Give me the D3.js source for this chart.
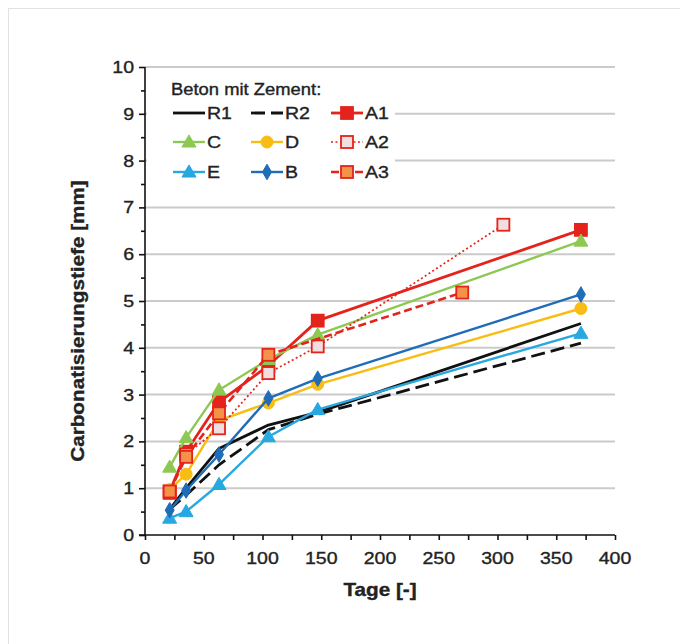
<!DOCTYPE html>
<html>
<head>
<meta charset="utf-8">
<script src="https://cdn.jsdelivr.net/npm/d3@7"></script>
<style>
  html, body { margin: 0; padding: 0; background: #fff; }
  svg { display: block; }
  text { font-family: "Liberation Sans", Arial, sans-serif; fill: #222; stroke: #222; stroke-width: 0.35px; }
</style>
</head>
<body>
<svg id="chart" width="680" height="644"></svg>
<script>
// ---- data ----
const days = [21, 35, 63, 105, 147, 371];
const daysA2 = [21, 35, 63, 105, 147, 305];
const daysA3 = [21, 35, 63, 105, 270];

const R1 = [0.55, 1.0, 1.85, 2.35, 2.62, 4.52];
const R2 = [0.55, 0.85, 1.5, 2.25, 2.58, 4.1];
const A1 = [0.93, 1.78, 2.84, 3.62, 4.58, 6.52];
const C  = [1.45, 2.08, 3.1, 3.75, 4.28, 6.28];
const D  = [0.97, 1.3, 2.45, 2.82, 3.22, 4.84];
const A2 = [0.9, 1.72, 2.28, 3.46, 4.03, 6.63];
const E  = [0.36, 0.5, 1.08, 2.1, 2.68, 4.31];
const B  = [0.53, 0.95, 1.72, 2.92, 3.34, 5.14];
const A3 = [0.93, 1.67, 2.6, 3.85, 5.18];

const xTicks = [0, 50, 100, 150, 200, 250, 300, 350, 400];
const yTicks = [0, 1, 2, 3, 4, 5, 6, 7, 8, 9, 10];
const legendTitle = "Beton mit Zement:";
const xTitle = "Tage [-]";
const yTitle = "Carbonatisierungstiefe [mm]";

// series styling
const series = [
  {name: "R1", x: days,   y: R1, color: "#111111", width: 2.8, dash: null,   marker: null},
  {name: "R2", x: days,   y: R2, color: "#111111", width: 2.8, dash: "14,6", marker: null},
  {name: "A1", x: days,   y: A1, color: "#e3231c", width: 2.8, dash: null,   marker: "square", fill: "#e3231c"},
  {name: "C",  x: days,   y: C,  color: "#8dc952", width: 2.4, dash: null,   marker: "triangle", fill: "#8dc952"},
  {name: "D",  x: days,   y: D,  color: "#f8bd12", width: 2.4, dash: null,   marker: "circle", fill: "#f8bd12"},
  {name: "A2", x: daysA2, y: A2, color: "#e3231c", width: 1.7, dash: "2,2.5",marker: "square", fill: "#f3dedf"},
  {name: "E",  x: days,   y: E,  color: "#27a8e0", width: 2.4, dash: null,   marker: "triangle", fill: "#27a8e0"},
  {name: "B",  x: days,   y: B,  color: "#1f6cb8", width: 2.4, dash: null,   marker: "diamond", fill: "#1f6cb8"},
  {name: "A3", x: daysA3, y: A3, color: "#e3231c", width: 2.6, dash: "8,4",  marker: "square", fill: "#f4924a"}
];

const svg = d3.select("#chart");
const pLeft = 145, pRight = 615, pTop = 67, pBottom = 535;
const x = d3.scaleLinear().domain([0, 400]).range([pLeft, pRight]);
const y = d3.scaleLinear().domain([0, 10]).range([pBottom, pTop]);

const SX = 1.15;
function label(parent, px, py, str, opts) {
  const o = Object.assign({size: 17, weight: "normal", anchor: "start", rotate: 0, sx: SX}, opts || {});
  const g = parent.append("g").attr("transform", `translate(${px},${py}) rotate(${o.rotate}) scale(${o.sx},1)`);
  g.append("text").attr("x", 0).attr("y", 0)
    .attr("font-size", o.size).attr("font-weight", o.weight)
    .attr("text-anchor", o.anchor).text(str);
  return g;
}

// outer frame (top and left edges visible)
svg.append("line").attr("x1", 8).attr("x2", 680).attr("y1", 8.5).attr("y2", 8.5).attr("stroke", "#e2e2e2").attr("stroke-width", 1);
svg.append("line").attr("x1", 8.5).attr("x2", 8.5).attr("y1", 8).attr("y2", 644).attr("stroke", "#e2e2e2").attr("stroke-width", 1);

// gridlines
svg.append("g").selectAll("line").data(yTicks.filter(d => d > 0)).join("line")
  .attr("x1", pLeft).attr("x2", pRight)
  .attr("y1", d => y(d)).attr("y2", d => y(d))
  .attr("stroke", "#cbcbcb").attr("stroke-width", 2);

// axes
const yAxis = d3.axisLeft(y).tickValues(yTicks).tickSize(6).tickFormat("");
const yAxisMinor = d3.axisLeft(y).tickValues(d3.range(0.5, 10, 1)).tickSize(4).tickFormat("");
const xAxis = d3.axisBottom(x).tickValues(d3.range(0, 401, 25)).tickSize(5).tickFormat("");

function styleAxis(g) {
  g.select(".domain").attr("stroke", "#111").attr("stroke-width", 1.6);
  g.selectAll(".tick line").attr("stroke", "#111").attr("stroke-width", 1.6);
}
svg.append("g").attr("transform", `translate(${pLeft},0)`).call(yAxisMinor).call(styleAxis).select(".domain").remove();
svg.append("g").attr("transform", `translate(${pLeft},0)`).call(yAxis).call(g => { styleAxis(g); g.select(".domain").attr("d", `M0,${pTop}V${pBottom}`); });
svg.append("g").attr("transform", `translate(0,${pBottom})`).call(xAxis).call(g => { styleAxis(g); g.select(".domain").attr("d", `M${pLeft - 6},0H${pRight}`); });

// tick labels
const tl = svg.append("g");
yTicks.forEach(v => label(tl, pLeft - 11, y(v) + 6, String(v), {anchor: "end"}));
xTicks.forEach(v => label(tl, x(v), pBottom + 29, String(v), {anchor: "middle"}));

// axis titles
label(svg, x(200), 596, xTitle, {size: 18, weight: "bold", anchor: "middle"});
label(svg, 84, 321, yTitle, {size: 18, weight: "bold", anchor: "middle", rotate: -90});

// markers
function drawMarker(g, type, cx, cy, s) {
  const fill = s.fill, stroke = s.color;
  if (type === "square") {
    g.append("rect").attr("x", cx - 6).attr("y", cy - 6).attr("width", 12).attr("height", 12)
      .attr("fill", fill).attr("stroke", stroke).attr("stroke-width", 1.8);
  } else if (type === "triangle") {
    g.append("path").attr("d", d3.symbol().type(d3.symbolTriangle).size(85)())
      .attr("transform", `translate(${cx},${cy + 1})`).attr("fill", fill).attr("stroke", stroke).attr("stroke-width", 1);
  } else if (type === "circle") {
    g.append("circle").attr("cx", cx).attr("cy", cy).attr("r", 6).attr("fill", fill).attr("stroke", stroke);
  } else if (type === "diamond") {
    g.append("path").attr("d", d3.symbol().type(d3.symbolDiamond).size(70)())
      .attr("transform", `translate(${cx},${cy})`).attr("fill", fill).attr("stroke", stroke);
  }
}

// series lines
const lineGen = d3.line().x(d => x(d[0])).y(d => y(d[1]));
const plotG = svg.append("g");
series.forEach(s => {
  const pts = s.x.map((d, i) => [d, s.y[i]]);
  const g = plotG.append("g");
  g.append("path").attr("d", lineGen(pts)).attr("fill", "none")
    .attr("stroke", s.color).attr("stroke-width", s.width)
    .attr("stroke-dasharray", s.dash).attr("stroke-linejoin", "round");
  if (s.marker) pts.forEach(p => drawMarker(g, s.marker, x(p[0]), y(p[1]), s));
});

// legend
const lg = svg.append("g");
lg.append("rect").attr("x", 147).attr("y", 70).attr("width", 248).attr("height", 120).attr("fill", "#fff");
label(lg, 171, 95, legendTitle, {size: 16});
const colX = [173, 251, 331];
const rowY = [113, 142, 172];
series.forEach((s, i) => {
  const cx = colX[i % 3], cy = rowY[Math.floor(i / 3)];
  const g = lg.append("g");
  g.append("line").attr("x1", cx).attr("x2", cx + 32).attr("y1", cy).attr("y2", cy)
    .attr("stroke", s.color).attr("stroke-width", s.width).attr("stroke-dasharray", s.dash);
  if (s.marker) drawMarker(g, s.marker, cx + 16, cy, s);
  label(g, cx + 34, cy + 6, s.name, {size: 17});
});
</script>
</body>
</html>
